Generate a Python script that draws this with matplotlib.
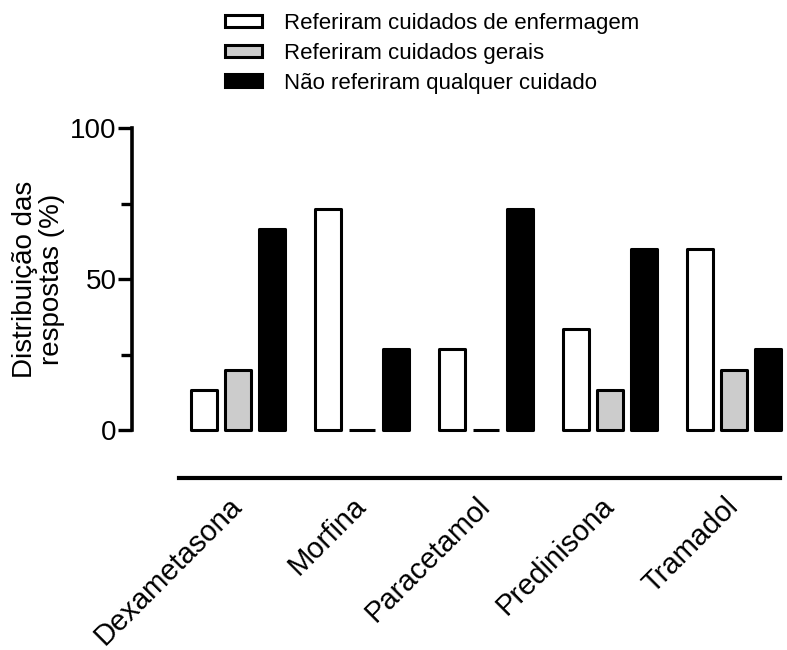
import numpy as np
import matplotlib.pyplot as plt
from matplotlib.ticker import MultipleLocator
from matplotlib.transforms import ScaledTranslation

plt.rcParams['font.family'] = ['Liberation Sans', 'DejaVu Sans']

drugs = ['Dexametasona', 'Morfina', 'Paracetamol', 'Predinisona', 'Tramadol']
series = ['Referiram cuidados de enfermagem', 'Referiram cuidados gerais',
          'Não referiram qualquer cuidado']
enfermagem = [13.33, 73.33, 26.67, 33.33, 60.0]
gerais = [20.0, 0.0, 0.0, 13.33, 20.0]
nenhum = [66.67, 26.67, 73.33, 60.0, 26.67]
colors = ['white', '#cccccc', 'black']

fig = plt.figure(figsize=(7.87, 6.5), dpi=100)
ax = fig.add_axes([132 / 787, 1 - 430 / 650, (780 - 132) / 787, (430 - 128) / 650])

# spine position first (it resets the ticks)
for s in ['top', 'right']:
    ax.spines[s].set_visible(False)
ax.spines['bottom'].set_position(('outward', 34.5))
ax.spines['bottom'].set_linewidth(3)
ax.spines['left'].set_linewidth(2.6)

x = np.arange(len(drugs))
step = 0.274
width = 0.215
for i, (vals, c, lab) in enumerate(zip([enfermagem, gerais, nenhum], colors, series)):
    ax.bar(x + (i - 1) * step, vals, width, color=c, edgecolor='black',
           linewidth=2.2, label=lab, clip_on=False, joinstyle='round')

ax.set_xlim(-0.855, 4.37)
ax.set_ylim(0, 100)
ax.spines['left'].set_bounds(0, 100)
ax.spines['bottom'].set_bounds(-0.48, 4.37)
ax.set_yticks([0, 50, 100])
ax.yaxis.set_minor_locator(MultipleLocator(25))
ax.set_xticks(x)
ax.tick_params(axis='x', length=0, labelbottom=False)

# rotated category labels under the detached x line
lab_tr = ax.get_xaxis_transform() + ScaledTranslation(-10 / 100, -62 / 100, fig.dpi_scale_trans)
for xi, name in zip(x, drugs):
    ax.text(xi, 0, name, transform=lab_tr, rotation=45, ha='right', va='top',
            rotation_mode='anchor', fontsize=21, clip_on=False)

ax.tick_params(axis='y', which='major', length=10, width=2.4, labelsize=20, pad=1)
ax.tick_params(axis='y', which='minor', length=8, width=2.4)

ax.set_ylabel('Distribuição das\nrespostas (%)', fontsize=20, labelpad=4, linespacing=1.05)

fig.legend(loc='upper left', bbox_to_anchor=(216 / 787, 1 - 4 / 650), frameon=False,
           borderaxespad=0, fontsize=16, handlelength=1.67, handleheight=0.5,
           handletextpad=1.0, labelspacing=0.4)

fig.savefig('out.png', dpi=100)
